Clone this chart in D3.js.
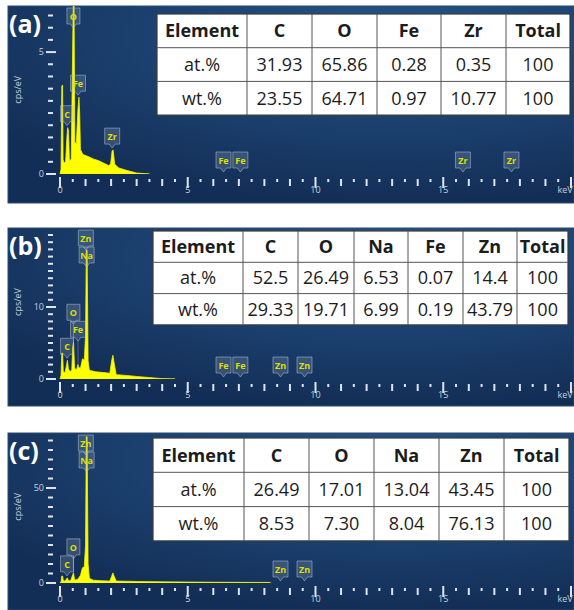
<!DOCTYPE html>
<html>
<head>
<meta charset="utf-8">
<script src="https://cdn.jsdelivr.net/npm/d3@7"></script>
<style>
  body { margin: 0; background: #fff; }
  svg { display: block; }
</style>
</head>
<body>
<div id="chart"></div>
<script>
// EDS spectra, cps/eV against keV
var specA = [[0,0],[0.04,0.2],[0.07,3.6],[0.1,3.65],[0.12,0.6],[0.16,0.45],[0.22,0.5],[0.27,1.5],[0.3,1.9],[0.33,1.8],
  [0.37,0.55],[0.44,0.6],[0.5,5.5],[0.52,7.0],[0.55,7.0],[0.58,1.3],[0.64,1.25],[0.7,2.6],[0.74,3.15],[0.77,2.5],
  [0.8,1.0],[0.9,0.8],[1.1,0.72],[1.3,0.62],[1.5,0.55],[1.7,0.45],[1.9,0.35],[1.98,0.4],[2.04,0.95],[2.08,0.98],
  [2.14,0.4],[2.3,0.25],[2.6,0.15],[3.0,0.04],[3.5,0]];
var specB = [[0,0],[0.04,0.5],[0.07,3.6],[0.1,3.6],[0.13,1.0],[0.2,0.9],[0.25,1.8],[0.29,2.6],[0.33,1.4],[0.4,1.0],
  [0.46,1.3],[0.5,4.5],[0.53,5.1],[0.57,1.5],[0.65,1.3],[0.7,2.0],[0.73,1.6],[0.8,1.5],[0.88,2.8],[0.95,2.6],
  [1.0,6],[1.03,17.9],[1.06,17.9],[1.1,2.5],[1.15,1.2],[1.4,1.0],[1.7,0.9],[1.95,0.8],[2.02,2.5],[2.07,3.3],
  [2.12,2.2],[2.2,0.6],[2.6,0.5],[3.0,0.35],[3.5,0.2],[4.0,0.05],[4.5,0]];
var specC = [[0,0],[0.04,0.5],[0.07,3.7],[0.1,3.7],[0.13,1.2],[0.2,1.0],[0.26,2.2],[0.29,2.7],[0.33,1.2],[0.42,1.3],
  [0.5,4.5],[0.53,5.3],[0.57,1.5],[0.7,2],[0.8,4],[0.88,8],[0.95,8.5],[1.0,20],[1.03,77],[1.06,77],[1.1,10],
  [1.15,2.5],[1.3,1.5],[1.6,1.2],[1.95,1.0],[2.02,3.5],[2.07,5.3],[2.12,3.5],[2.2,1.0],[3,0.8],[4,0.6],[5,0.5],
  [6,0.4],[7,0.35],[8.2,0.3],[8.25,0]];

// element line markers (keV), in the order they get stacked
var tagsA = [["C",0.277],["O",0.525],["Fe",0.705],["Zr",2.042],["Fe",6.40],["Fe",7.06],["Zr",15.77],["Zr",17.67]];
var tagsB = [["C",0.277],["Fe",0.705],["O",0.525],["Zn",1.012],["Na",1.041],["Fe",6.40],["Fe",7.06],["Zn",8.63],["Zn",9.57]];
var tagsC = [["C",0.277],["O",0.525],["Zn",1.012],["Na",1.041],["Zn",8.63],["Zn",9.57]];

// composition tables
var headA = ["Element","C","O","Fe","Zr","Total"];
var atA = ["at.%","31.93","65.86","0.28","0.35","100"];
var wtA = ["wt.%","23.55","64.71","0.97","10.77","100"];
var headB = ["Element","C","O","Na","Fe","Zn","Total"];
var atB = ["at.%","52.5","26.49","6.53","0.07","14.4","100"];
var wtB = ["wt.%","29.33","19.71","6.99","0.19","43.79","100"];
var headC = ["Element","C","O","Na","Zn","Total"];
var atC = ["at.%","26.49","17.01","13.04","43.45","100"];
var wtC = ["wt.%","8.53","7.30","8.04","76.13","100"];

var xLabels = [0, 5, 10, 15];
var panelNames = ["(a)", "(b)", "(c)"];

var panels = [
  { name: panelNames[0], top: 6, bottom: 203, base: 174, yTop: 15.5, yMax: 6.5, yStep: 0.5, yLabels: [0, 5],
    spec: specA, tags: tagsA, rows: [headA, atA, wtA], tx: 157, ty: 14, rowH: 33.7, cols: [90,65,65,64,65,64] },
  { name: panelNames[1], top: 228, bottom: 406, base: 379, yTop: 235, yMax: 20, yStep: 1, yLabels: [0, 10],
    spec: specB, tags: tagsB, rows: [headB, atB, wtB], tx: 153, ty: 231, rowH: 31.3, cols: [90,55,56,54,55,54,51] },
  { name: panelNames[2], top: 433, bottom: 610, base: 583, yTop: 440.5, yMax: 75, yStep: 5, yLabels: [0, 50],
    spec: specC, tags: tagsC, rows: [headC, atC, wtC], tx: 153, ty: 438, rowH: 34.3, cols: [91,65,65,65,65,65] }
];

var W = 574, H = 610;
var svg = d3.select("#chart").append("svg").attr("width", W).attr("height", H);
var defs = svg.append("defs");
var grad = defs.append("radialGradient").attr("id", "bg")
  .attr("cx", "68%").attr("cy", "15%").attr("r", "85%");
grad.append("stop").attr("offset", "0%").attr("stop-color", "#25558b");
grad.append("stop").attr("offset", "100%").attr("stop-color", "#132e56");

var x = d3.scaleLinear().domain([0, 20]).range([60, 571]);
var tickCol = "#dde4ec", labCol = "#c6d0dc";

// stack the element tags so they do not overlap
function placeTags(tags, spec, y, topLimit) {
  var boxes = [];
  tags.forEach(function(t) {
    var near = spec.filter(function(p) { return Math.abs(p[0] - t[1]) <= 0.05; });
    var h = near.length ? d3.max(near, function(p) { return p[1]; }) : 0;
    var w = t[0].length > 1 ? 15 : 13;
    var peakY = Math.max(y(h), topLimit);
    var top = peakY - 22;
    if (top < topLimit) top = topLimit;
    var cx = x(t[1]), hit, guard = 0;
    while ((hit = boxes.find(function(b) {
        return Math.abs(b.cx - cx) < (b.w + w) / 2 && b.top < top + 16 && top < b.top + 16;
      })) && guard++ < 10) {
      top = (hit.top - 17 >= topLimit) ? hit.top - 17 : hit.top + 17;
    }
    boxes.push({ el: t[0], cx: cx, w: w, top: top, peakY: peakY });
  });
  return boxes;
}

panels.forEach(function(p, i) {
  var g = svg.append("g");
  var y = d3.scaleLinear().domain([0, p.yMax]).range([p.base, p.yTop]);

  g.append("rect").attr("x", 8).attr("y", p.top).attr("width", W - 8).attr("height", p.bottom - p.top)
    .attr("fill", "url(#bg)").attr("stroke", "#2c4a70").attr("stroke-width", 1);

  // spectrum
  defs.append("clipPath").attr("id", "clip" + i).append("rect")
    .attr("x", 8).attr("y", p.top).attr("width", W - 8).attr("height", p.base - p.top);
  var area = d3.area().x(function(d) { return x(d[0]); }).y0(p.base).y1(function(d) { return y(d[1]); });
  g.append("path").datum(p.spec).attr("d", area).attr("clip-path", "url(#clip" + i + ")")
    .attr("fill", "#ffff00").attr("stroke", "#f2f200").attr("stroke-width", 0.8);

  // x ticks
  var xt = d3.range(0, 20.001, 0.5);
  g.selectAll(".xt").data(xt).enter().append("rect")
    .attr("x", function(d) { return x(d) - 1; })
    .attr("y", function(d) { return d % 5 === 0 ? p.base + 3 : p.base + 5; })
    .attr("width", 2)
    .attr("height", function(d) { return d % 5 === 0 ? 11 : (d % 1 === 0 ? 7 : 3); })
    .attr("fill", tickCol);
  g.selectAll(".xl").data(xLabels).enter().append("text")
    .attr("x", function(d) { return x(d); }).attr("y", p.base + 19)
    .attr("text-anchor", "middle").attr("fill", labCol)
    .style("font", "9px 'Open Sans', sans-serif").text(function(d) { return d; });
  g.append("text").attr("x", 565).attr("y", p.base + 19).attr("text-anchor", "middle")
    .attr("fill", labCol).style("font", "9px 'Open Sans', sans-serif").text("keV");

  // y ticks
  var yt = d3.range(0, p.yMax + 1e-6, p.yStep);
  g.selectAll(".yt").data(yt).enter().append("rect")
    .attr("x", function(d) { return p.yLabels.indexOf(d) >= 0 ? 46 : 48; })
    .attr("y", function(d) { return y(d) - 1; })
    .attr("width", function(d) { return p.yLabels.indexOf(d) >= 0 ? 10 : 5; })
    .attr("height", 2).attr("fill", tickCol);
  g.selectAll(".yl").data(p.yLabels).enter().append("text")
    .attr("x", 44).attr("y", function(d) { return y(d) + 3; })
    .attr("text-anchor", "end").attr("fill", labCol)
    .style("font", "9px 'Open Sans', sans-serif").text(function(d) { return d; });
  g.append("text")
    .attr("transform", "translate(21," + ((y(p.yMax) + p.base) / 2 - 5) + ") rotate(-90)")
    .attr("text-anchor", "middle").attr("fill", labCol)
    .style("font", "9px 'Open Sans', sans-serif").text("cps/eV");

  // element tags
  var boxes = placeTags(p.tags, p.spec, y, p.top + 2);
  var tg = g.selectAll(".tag").data(boxes).enter().append("g");
  tg.filter(function(b) { return b.peakY - (b.top + 20) > 2; }).append("line")
    .attr("x1", function(b) { return b.cx; }).attr("x2", function(b) { return b.cx; })
    .attr("y1", function(b) { return b.top + 20; }).attr("y2", function(b) { return b.peakY; })
    .attr("stroke", "rgba(200,210,225,0.35)").attr("stroke-width", 1);
  tg.append("path")
    .attr("d", function(b) {
      return "M" + (b.cx - b.w / 2) + "," + b.top + "h" + b.w + "v16h" + (-(b.w / 2 - 3)) +
        "l-3,4l-3,-4h" + (-(b.w / 2 - 3)) + "z";
    })
    .attr("fill", "rgba(170,185,205,0.22)").attr("stroke", "rgba(190,200,215,0.5)").attr("stroke-width", 1);
  tg.append("text")
    .attr("x", function(b) { return b.cx; }).attr("y", function(b) { return b.top + 12; })
    .attr("text-anchor", "middle").attr("fill", "#dede00")
    .style("font", "bold 9px 'Open Sans', sans-serif").text(function(b) { return b.el; });

  // panel letter
  g.append("text").attr("x", 9).attr("y", p.top + 27).attr("fill", "#fff")
    .style("font", "bold 25px 'Open Sans', sans-serif").text(p.name);

  // table
  var colX = [p.tx];
  p.cols.forEach(function(w) { colX.push(colX[colX.length - 1] + w); });
  var tw = colX[colX.length - 1] - p.tx;
  g.append("rect").attr("x", p.tx).attr("y", p.ty).attr("width", tw).attr("height", p.rowH * 3)
    .attr("fill", "#fff").attr("stroke", "#3a3a3a").attr("stroke-width", 1.2);
  g.selectAll(".hl").data([1, 2]).enter().append("line")
    .attr("x1", p.tx).attr("x2", p.tx + tw)
    .attr("y1", function(r) { return p.ty + r * p.rowH; }).attr("y2", function(r) { return p.ty + r * p.rowH; })
    .attr("stroke", "#555").attr("stroke-width", 1);
  g.selectAll(".vl").data(colX.slice(1, -1)).enter().append("line")
    .attr("x1", function(d) { return d; }).attr("x2", function(d) { return d; })
    .attr("y1", p.ty).attr("y2", p.ty + p.rowH * 3)
    .attr("stroke", "#555").attr("stroke-width", 1);
  p.rows.forEach(function(row, r) {
    g.selectAll(".c" + r).data(row).enter().append("text")
      .attr("x", function(d, c) { return (colX[c] + colX[c + 1]) / 2; })
      .attr("y", p.ty + r * p.rowH + p.rowH / 2)
      .attr("dy", "0.36em").attr("text-anchor", "middle").attr("fill", "#1c1c1c")
      .style("font", (r === 0 ? "bold " : "") + "18px 'Open Sans', sans-serif")
      .text(function(d) { return d; });
  });
});
</script>
</body>
</html>
